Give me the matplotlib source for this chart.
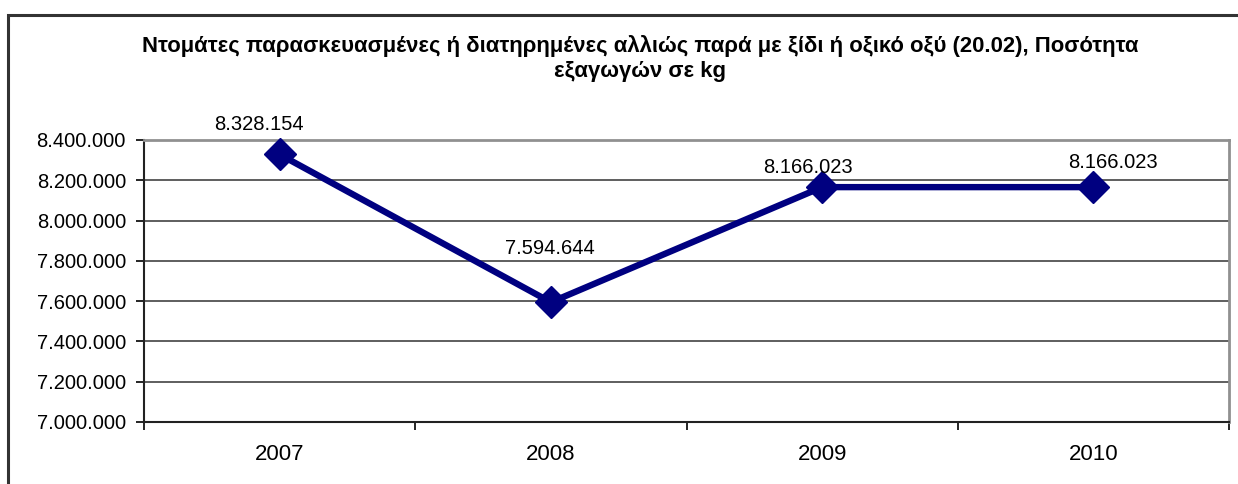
import matplotlib
matplotlib.use("Agg")
import matplotlib.pyplot as plt
from matplotlib.ticker import FuncFormatter, FixedLocator
from matplotlib.patches import Rectangle

years = ["2007", "2008", "2009", "2010"]
quantities = [8328154, 7594644, 8166023, 8166023]
y_ticks = [7000000, 7200000, 7400000, 7600000, 7800000, 8000000, 8200000, 8400000]
title = ("Ντομάτες παρασκευασμένες ή διατηρημένες αλλιώς παρά με ξίδι ή οξικό οξύ (20.02), Ποσότητα\n"
         "εξαγωγών σε kg")

def fmt(v):
    return f"{int(round(v)):,}".replace(",", ".")

plt.rcParams['font.family'] = ['Liberation Sans', 'DejaVu Sans']

W, H = 1238, 484
fig = plt.figure(figsize=(W / 100, H / 100), dpi=100)
fig.patch.set_facecolor("white")

# outer chart border (extends beyond the right and bottom edges)
fig.patches.append(Rectangle((8 / W, -0.2), 1.2, 1.2 - 15 / H, transform=fig.transFigure,
                             fill=False, edgecolor="#333333", linewidth=2.2, zorder=0))

left, right, top, bottom = 144, 1229, 140, 422
ax = fig.add_axes([left / W, 1 - bottom / H, (right - left) / W, (bottom - top) / H])

x = [i + 0.5 for i in range(len(years))]
ax.plot(x, quantities, color="#000080", linewidth=4.6, marker="D", markersize=16,
        markeredgecolor="#000080", zorder=5, clip_on=False)

label_offsets = [(-21, 24), (-1, 48), (-14, 14), (20, 19)]
for xi, q, off in zip(x, quantities, label_offsets):
    ax.annotate(fmt(q), (xi, q), xytext=off, textcoords="offset pixels",
                ha="center", va="baseline", fontsize=14.5, color="black", zorder=6)

ax.set_xlim(0, len(years))
ax.set_ylim(y_ticks[0], y_ticks[-1])
ax.set_yticks(y_ticks)
ax.yaxis.set_major_formatter(FuncFormatter(lambda v, p: fmt(v)))
ax.xaxis.set_major_locator(FixedLocator(list(range(len(years) + 1))))
ax.xaxis.set_minor_locator(FixedLocator(x))
ax.set_xticklabels([], minor=False)
ax.set_xticklabels(years, minor=True)
ax.tick_params(axis="x", which="major", length=6, width=1.2, color="black", direction="out")
ax.tick_params(axis="x", which="minor", length=0, labelsize=16, pad=16)
ax.tick_params(axis="y", length=6, width=1.2, color="black", direction="out", labelsize=14.5, pad=7)

ax.grid(axis="y", color="#333333", linewidth=1.1, zorder=1)
ax.set_axisbelow(True)
for s in ["top", "right"]:
    ax.spines[s].set_color("#909090")
    ax.spines[s].set_linewidth(2)
for s in ["left", "bottom"]:
    ax.spines[s].set_color("#222222")
    ax.spines[s].set_linewidth(1.5)

fig.text(640 / W, 1 - 58.5 / H, title, ha="center", va="center", fontsize=15.9,
         fontweight="bold", linespacing=1.28)

fig.savefig("out.png", dpi=100)
